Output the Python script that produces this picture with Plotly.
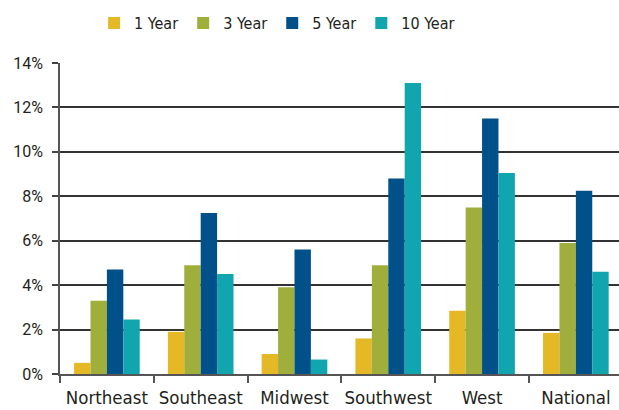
import plotly.graph_objects as go

regions = ["Northeast", "Southeast", "Midwest", "Southwest", "West", "National"]
series_names = ["1 Year", "3 Year", "5 Year", "10 Year"]
one_year = [0.5, 1.9, 0.9, 1.6, 2.85, 1.85]
three_year = [3.3, 4.9, 3.9, 4.9, 7.5, 5.9]
five_year = [4.7, 7.25, 5.6, 8.8, 11.5, 8.25]
ten_year = [2.45, 4.5, 0.65, 13.1, 9.05, 4.6]
colors = ["#E5B826", "#A0AE3C", "#005189", "#11A5B0"]
y_ticks = [0, 2, 4, 6, 8, 10, 12, 14]
y_tick_labels = [f"{v}%" for v in y_ticks]

narrow = "DejaVu Sans Condensed, Roboto"

fig = go.Figure()
for name, vals, col in zip(series_names, [one_year, three_year, five_year, ten_year], colors):
    fig.add_trace(go.Bar(x=regions, y=vals, name=name, marker=dict(color=col, line=dict(width=0))))

fig.update_layout(
    width=619, height=410,
    margin=dict(l=60, r=0, t=63, b=36, autoexpand=False),
    paper_bgcolor="white", plot_bgcolor="white",
    barmode="group", bargap=0.3, bargroupgap=0,
    font=dict(family="Roboto", size=15, color="#231F20"),
    legend=dict(orientation="h", x=0.152, xanchor="left", xref="container",
                y=0.985, yanchor="top", yref="container",
                font=dict(size=16, family=narrow), itemwidth=30, traceorder="normal"),
    showlegend=True,
)
fig.update_xaxes(
    range=[-0.5, 5.46], showline=True, linecolor="#555", linewidth=1.5,
    ticks="outside", tickson="boundaries", ticklen=7, tickcolor="#555", tickwidth=1.5,
    showgrid=False, tickangle=0, automargin=False, ticklabelstandoff=6,
    tickfont=dict(size=18.5, color="#231F20", family=narrow),
)
fig.update_yaxes(
    range=[0, 14], tickvals=y_ticks, ticktext=y_tick_labels,
    showline=True, linecolor="#555", linewidth=1.5,
    ticks="outside", ticklen=6, tickcolor="#444", tickwidth=1.5,
    showgrid=True, gridcolor="#333", gridwidth=1.5, zeroline=False, automargin=False,
    ticklabelstandoff=6,
    tickfont=dict(size=16, color="#231F20"),
)

fig.write_html("out.html")
